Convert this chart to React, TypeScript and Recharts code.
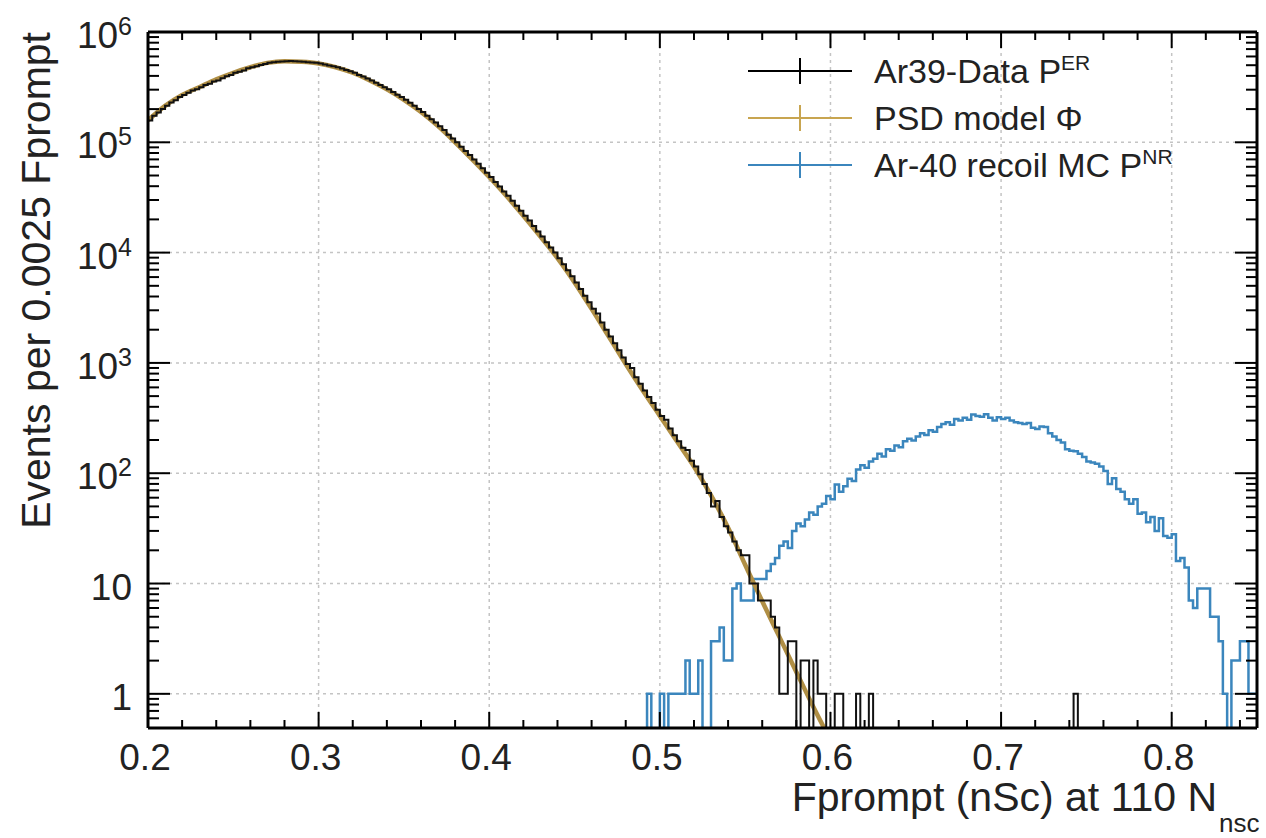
import React from 'react';
import { LineChart, Line, XAxis, YAxis, CartesianGrid } from 'recharts';

const W = 1266;
const H = 838;
const PLOT = { left: 148, right: 1257, top: 32, bottom: 728 };
const FONT = '"Liberation Sans", Arial, Helvetica, sans-serif';

const binWidth = 0.0025;
const erStart = 0.2; // first bin of the Ar39 data
const nrStart = 0.49; // first bin listed for the recoil MC
const floorValue = 0.1; // empty bins are drawn below the axis floor

// Ar39-Data P^ER, events per bin from 0.2
const ar39Data = [
  158000, 174000, 186000, 200000, 214000, 229000, 240000, 257000, 269000, 282000,
  295000, 302000, 316000, 331000, 339000, 355000, 363000, 380000, 398000, 407000,
  427000, 437000, 447000, 468000, 479000, 490000, 501000, 513000, 525000, 531000,
  537000, 541000, 543000, 545000, 543000, 541000, 537000, 533000, 528000, 525000,
  519000, 507000, 498000, 490000, 479000, 466000, 452000, 440000, 427000, 407000,
  394000, 378000, 363000, 347000, 331000, 316000, 302000, 286000, 270000, 257000,
  243000, 228000, 214000, 200000, 188000, 174000, 162000, 151000, 140000, 129000,
  117000, 108000, 100000, 91200, 83200, 76700, 70000, 63800, 58200, 53100,
  48400, 43700, 39800, 35900, 32700, 29500, 26600, 24000, 21600, 19500,
  17400, 15500, 14000, 12400, 11100, 10000, 8910, 7850, 6920, 6100,
  5370, 4680, 4070, 3550, 3090, 2800, 2320, 2000, 1740, 1510,
  1300, 1120, 977, 900, 741, 646, 562, 490, 432, 376,
  331, 305, 254, 221, 195, 170, 162, 130, 115, 98,
  80, 66, 50, 56, 40, 33, 29, 24, 20, 18,
  18, 10, 10, 7, 7, 7, 5, 4, 1, 1,
  3, 3, 0, 2, 2, 0, 2, 1, 1, 0,
  0, 1, 1, 0, 0, 0, 1, 0, 0, 1,
  0, 0, 0, 0, 0, 0, 0, 0, 0, 0,
  0, 0, 0, 0, 0, 0, 0, 0, 0, 0,
  0, 0, 0, 0, 0, 0, 0, 0, 0, 0,
  0, 0, 0, 0, 0, 0, 0, 0, 0, 0,
  0, 0, 0, 0, 0, 0, 0, 1, 0,
];

// Ar-40 recoil MC P^NR, events per bin from 0.49
const ar40RecoilMC = [
  0, 1, 0, 0,
  1, 0, 1, 1, 1, 1, 2, 1, 1, 2,
  0, 0, 3, 3, 4, 2, 2, 9, 10, 7,
  7, 7, 11, 11, 11, 13, 15, 17, 22, 24,
  21, 30, 35, 33, 38, 44, 42, 50, 53, 62,
  58, 79, 68, 76, 89, 85, 108, 118, 112, 128,
  135, 150, 142, 165, 160, 178, 172, 195, 205, 198,
  215, 230, 222, 245, 238, 262, 280, 290, 275, 310,
  300, 318, 305, 340, 330, 325, 342, 318, 300, 322,
  310, 318, 300, 290, 285, 280, 285, 258, 252, 265,
  262, 230, 215, 200, 190, 165, 160, 158, 150, 140,
  128, 125, 122, 115, 105, 80, 90, 72, 68, 58,
  53, 58, 43, 44, 36, 40, 30, 39, 27, 26,
  28, 16, 17, 14, 7, 6, 9, 9, 9, 5,
  5, 3, 1, 0, 2, 2, 3, 3, 1, 1,
];

// PSD model Phi
const psdModelX = [
  0.2, 0.21, 0.22, 0.23, 0.24, 0.25, 0.26, 0.27, 0.28, 0.29,
  0.3, 0.31, 0.32, 0.33, 0.34, 0.35, 0.36, 0.37, 0.38, 0.39,
  0.4, 0.41, 0.42, 0.43, 0.44, 0.45, 0.46, 0.47, 0.48, 0.49,
  0.5, 0.51, 0.52, 0.53, 0.54, 0.55, 0.56, 0.57, 0.58, 0.59, 0.6,
];
const psdModel = [
  158000, 214000, 269000, 316000, 372000, 427000, 479000, 525000, 543000, 537000,
  519000, 479000, 427000, 363000, 302000, 243000, 188000, 140000, 100000, 70000,
  48400, 32700, 21600, 14000, 8910, 5370, 3090, 1740, 977, 562,
  331, 195, 115, 63, 32, 14.8, 6.9, 3.3, 1.58, 0.76, 0.38,
];

const xMajorTicks = [0.2, 0.3, 0.4, 0.5, 0.6, 0.7, 0.8];
const xMinorTicks = [
  0.22, 0.24, 0.26, 0.28, 0.32, 0.34, 0.36, 0.38, 0.42, 0.44, 0.46, 0.48,
  0.52, 0.54, 0.56, 0.58, 0.62, 0.64, 0.66, 0.68, 0.72, 0.74, 0.76, 0.78,
  0.82, 0.84,
];
const xGridValues = [0.3, 0.4, 0.5, 0.6, 0.7, 0.8];
const yDecades = [1, 10, 100, 1000, 10000, 100000, 1000000];
const yMinorFactors = [2, 3, 4, 5, 6, 7, 8, 9];
const yBelowOne = [0.6, 0.7, 0.8, 0.9];

const legendItems = [
  { name: 'Ar39-Data P', sup: 'ER', color: '#000000' },
  { name: 'PSD model \u03A6', sup: '', color: '#c8a550' },
  { name: 'Ar-40 recoil MC P', sup: 'NR', color: '#3b86bd' },
];

const round4 = (v: number) => Math.round(v * 10000) / 10000;

const toHistogram = (counts: number[], start: number) => {
  const pts = counts.map((c, i) => ({ x: round4(start + i * binWidth), y: c > 0 ? c : floorValue }));
  const last = counts[counts.length - 1];
  pts.push({ x: round4(start + counts.length * binWidth), y: last > 0 ? last : floorValue });
  return pts;
};

const ar39Points = toHistogram(ar39Data, erStart);
const recoilPoints = toHistogram(ar40RecoilMC, nrStart);
const modelPoints = psdModelX.map((x, i) => ({ x, y: psdModel[i] }));

const xTicks = [...xMajorTicks, ...xMinorTicks].sort((a, b) => a - b);
const yTicks = [
  ...yBelowOne,
  ...yDecades.flatMap((d) => (d < 1000000 ? [d, ...yMinorFactors.map((f) => d * f)] : [d])),
];

const isMajorX = (v: number) => xMajorTicks.some((t) => Math.abs(t - v) < 1e-6);
const isDecade = (v: number) => yDecades.some((d) => Math.abs(d - v) / d < 1e-6);

const BottomTick = ({ x, y, payload }: any) => {
  const major = isMajorX(payload.value);
  return (
    <g>
      <line x1={x} x2={x} y1={y} y2={y - (major ? 16 : 8)} stroke="#000" strokeWidth={2} />
      {major && (
        <text x={x - 3} y={y + 42} textAnchor="middle" fontSize={37} fontFamily={FONT} fill="#222">
          {payload.value.toFixed(1)}
        </text>
      )}
    </g>
  );
};

const TopTick = ({ x, y, payload }: any) => {
  const major = isMajorX(payload.value);
  return <line x1={x} x2={x} y1={y} y2={y + (major ? 16 : 8)} stroke="#000" strokeWidth={2} />;
};

const LeftTick = ({ x, y, payload }: any) => {
  const v = payload.value;
  const major = isDecade(v);
  const exp = Math.round(Math.log10(v));
  return (
    <g>
      <line x1={x} x2={x + (major ? 22 : 11)} y1={y} y2={y} stroke="#000" strokeWidth={2} />
      {major && (
        <text x={x - 16} y={y + 16} textAnchor="end" fontSize={37} fontFamily={FONT} fill="#222">
          {exp <= 1 ? String(v) : '10'}
          {exp > 1 && (
            <tspan dy={-13} fontSize={25}>
              {exp}
            </tspan>
          )}
        </text>
      )}
    </g>
  );
};

const RightTick = ({ x, y, payload }: any) => {
  const major = isDecade(payload.value);
  return <line x1={x} x2={x - (major ? 22 : 11)} y1={y} y2={y} stroke="#000" strokeWidth={2} />;
};

const axisLine = { stroke: '#000', strokeWidth: 3 };

export default function App() {
  return (
    <div style={{ position: 'absolute', left: 0, top: 0, width: W, height: H, background: '#fff' }}>
      <LineChart width={W} height={H} margin={{ top: 0, right: 0, bottom: 0, left: 0 }}>
        <CartesianGrid
          horizontalValues={yDecades.slice(0, 6)}
          verticalValues={xGridValues}
          stroke="#c4c4c4"
          strokeWidth={1.5}
          strokeDasharray="3 4"
        />
        <XAxis
          dataKey="x"
          type="number"
          domain={[0.2, 0.85]}
          allowDataOverflow
          ticks={xTicks}
          interval={0}
          height={H - PLOT.bottom}
          tickSize={0}
          tickMargin={0}
          tickLine={false}
          axisLine={axisLine}
          tick={(p: any) => <BottomTick {...p} />}
        />
        <XAxis
          xAxisId="top"
          orientation="top"
          dataKey="x"
          type="number"
          domain={[0.2, 0.85]}
          allowDataOverflow
          ticks={xTicks}
          interval={0}
          height={PLOT.top}
          tickSize={0}
          tickMargin={0}
          tickLine={false}
          axisLine={axisLine}
          tick={(p: any) => <TopTick {...p} />}
        />
        <YAxis
          type="number"
          scale="log"
          domain={[0.49, 1000000]}
          allowDataOverflow
          ticks={yTicks}
          interval={0}
          width={PLOT.left}
          tickSize={0}
          tickMargin={0}
          tickLine={false}
          axisLine={axisLine}
          tick={(p: any) => <LeftTick {...p} />}
        />
        <YAxis
          yAxisId="right"
          orientation="right"
          type="number"
          scale="log"
          domain={[0.49, 1000000]}
          allowDataOverflow
          ticks={yTicks}
          interval={0}
          width={W - PLOT.right}
          tickSize={0}
          tickMargin={0}
          tickLine={false}
          axisLine={axisLine}
          tick={(p: any) => <RightTick {...p} />}
        />
        <Line
          data={recoilPoints}
          dataKey="y"
          type="stepAfter"
          stroke="#3b86bd"
          strokeWidth={2.5}
          dot={false}
          isAnimationActive={false}
        />
        <Line
          data={modelPoints}
          dataKey="y"
          type="monotone"
          stroke="#b08f45"
          strokeWidth={4.5}
          dot={false}
          isAnimationActive={false}
        />
        <Line
          data={ar39Points}
          dataKey="y"
          type="stepAfter"
          stroke="#111"
          strokeWidth={2}
          dot={false}
          isAnimationActive={false}
        />
      </LineChart>

      <svg
        width={W}
        height={H}
        style={{ position: 'absolute', left: 0, top: 0, pointerEvents: 'none' }}
        fontFamily={FONT}
      >
        <text transform="translate(50, 32) rotate(-90)" textAnchor="end" fontSize={41} fill="#222">
          Events per 0.0025 Fprompt
        </text>
        <text x={1217} y={811} textAnchor="end" fontSize={41} fill="#222">
          Fprompt (nSc) at 110 N
        </text>
        <text x={1219} y={832} fontSize={26} fill="#222">
          nsc
        </text>
        {legendItems.map((item, i) => {
          const cy = 71 + i * 47;
          return (
            <g key={item.name}>
              <line x1={748} x2={852} y1={cy} y2={cy} stroke={item.color} strokeWidth={2} />
              <line x1={800} x2={800} y1={cy - 13} y2={cy + 13} stroke={item.color} strokeWidth={2} />
              <text x={874} y={cy + 12} fontSize={34} fill="#222">
                {item.name}
                {item.sup && (
                  <tspan dy={-13} fontSize={21}>
                    {item.sup}
                  </tspan>
                )}
              </text>
            </g>
          );
        })}
      </svg>
    </div>
  );
}
